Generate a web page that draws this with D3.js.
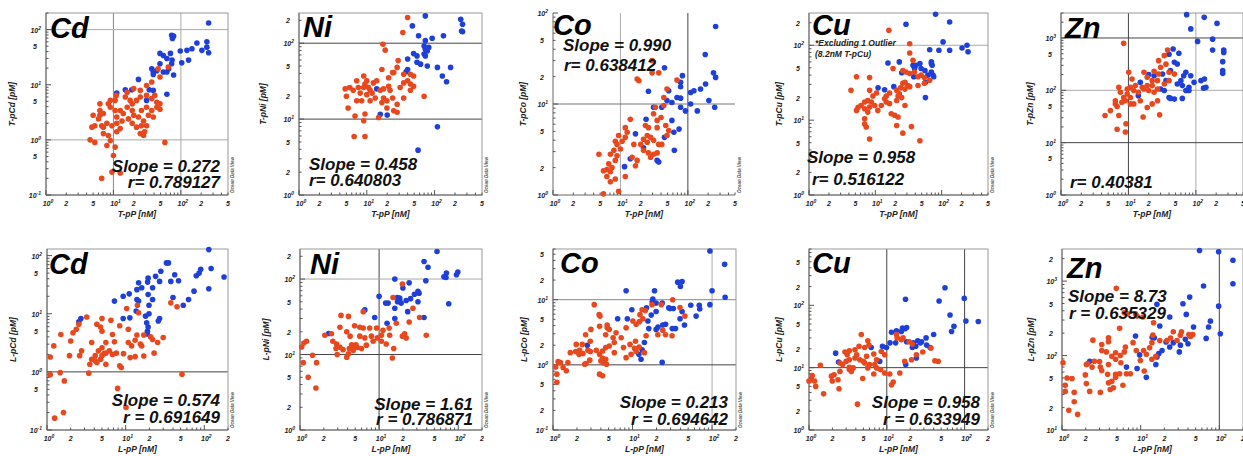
<!DOCTYPE html>
<html>
<head>
<meta charset="utf-8">
<script src="https://cdn.jsdelivr.net/npm/d3@7"></script>
<style>
body { margin: 0; background: #fff; }
svg text { font-family: "Liberation Sans", Arial, sans-serif; font-weight: bold; font-style: italic; }
</style>
</head>
<body>
<div id="container"></div>
<script>
// ---- values: [P nM, metal pM] ----
const tCdBlue = [[258,132],[73,79],[78,76],[75,69],[173,57],[243,60],[243,48],[258,38],[205,42],[146,45],[123,42],[98,41],[130,28],[103,25],[70,37],[55,34],[49,37],[62,30],[73,24],[74,28],[49,24],[44,18],[39,17],[55,17],[62,17],[78,15],[39,15.4],[66,19.5],[37,19.5],[23.5,12.5],[11.2,7.1],[15,8.1],[18.7,8.1],[34,8.1],[39,7.9],[31,5.2],[62,6.7]];
const tCdRed = [[65,21],[46,19.5],[49,13.8],[37,11.2],[31,9.7],[25,7.9],[20,8.5],[16,7.3],[15,6],[11,6.4],[10.6,5.2],[9,5.2],[8.4,4.5],[9,3.9],[10.6,3.4],[7.1,3],[6.3,3.4],[6,2.4],[5.3,1.8],[6.7,1.8],[8,2],[9.5,1.8],[11.2,2],[12.6,1.6],[11.2,1.4],[8.4,1.2],[7.1,1.3],[9,0.97],[8,0.79],[10.6,0.74],[4.5,1],[5.3,0.9],[10,0.52],[9.5,0.26],[12.6,0.25],[6.7,0.2],[58,0.9],[16,3.9],[19,4.5],[22,5.2],[26,3.4],[31,3.9],[37,3.4],[44,3.9],[49,3.6],[39,2.6],[33,2.8],[28,2.2],[23.5,2.6],[20,2.8],[16.7,2.4],[19,2],[22,1.7],[26,1.8],[31,1.8],[29,1.4],[28,1.2],[25,1.3],[44,4.8],[41,6.4],[37,5.6],[49,4.5],[14,3],[13.4,2.2],[19,3.4],[31,6.4],[25,6],[17.7,5.2],[6.3,2.8],[5,2.8],[6.3,4.5],[4.8,1.7],[7.1,1.7],[11.2,2.6],[12.6,3.4]];

const tNiBlue = [[73,229],[47,169],[58,125],[92,116],[135,125],[243,207],[258,178],[250,145],[258,142],[73,108],[70,92],[73,83],[78,79],[70,72],[73,68],[49,73],[55,68],[82,88],[40,62],[55,56],[62,53],[78,50],[110,48],[172,48],[130,37],[150,31],[40,45],[38,42],[14,25],[15.8,11.6],[20,11.3],[110,7.9],[57,3.9]];
const tNiRed = [[40,218],[34,138],[17.3,97],[18.7,81],[29,59],[28,48],[16.7,45],[25,41],[21,35],[24,41],[35,39],[44,39],[49,37],[40,32],[44,29],[49,27],[31,26],[21,27],[22,24],[17.7,25],[14,32],[12.5,30],[10,32],[9,37],[7.1,32],[5.6,26],[4.8,25],[5,20],[6.3,24],[7.5,26],[8,22],[9,26],[9.4,29],[10.6,26],[11.2,24],[12,22],[10,21],[8.4,17.4],[7.1,17.4],[5.3,14],[6.7,11],[9.4,11.7],[14.9,10.5],[9,9.5],[17.7,19],[19.8,17.4],[16.7,16.5],[24,19],[28,15.7],[25,12.9],[19.8,14],[28,12.3],[35,19],[70,20],[13.3,19],[15.8,24],[11.2,17.4],[6.5,5.9],[9.4,5.9],[44,24],[35,30]];

const tCoBlue = [[258,71],[181,35],[45,25],[83,20.5],[78,17.3],[240,22],[258,19.6],[183,16.6],[154,14.6],[110,13.4],[123,14],[78,15.5],[52,14],[26,13.8],[69,11.8],[78,11.6],[110,10],[138,8.4],[205,10.9],[250,9.2],[92,8.4],[78,9.2],[58,10.4],[49,10.9],[41,9.2],[31,9.2],[24,6.8],[58,6.6],[74,5.3],[62,4.9],[16.7,4.7],[45,4.3],[63,3.1],[35,2.4],[37,2.3],[22,3.3],[14,2.5],[11.5,2.05]];
const tCoRed = [[29.5,30],[29.5,22],[37,22],[17.7,18.8],[18.8,18],[69,18.3],[49,14.6],[44,11.8],[44,9.6],[33,9.2],[31,7.8],[35,6.6],[40,7.1],[47,5.8],[52,5.1],[49,4.5],[41,3.6],[37,3.6],[31,4],[28,4.3],[22,4.1],[25,3.8],[20,3.6],[22,3.1],[26,2.9],[31,2.8],[28,2.6],[35,2.9],[14,6.8],[11.8,5.5],[12.6,4.9],[9.4,4.5],[8.9,3.6],[8.4,3.9],[10,3.2],[8,3.1],[7.1,2.8],[8.9,2.7],[8.4,2.4],[6.7,2.2],[7.5,2],[6.3,1.9],[7.1,1.8],[5.6,1.85],[6.3,1.6],[8.4,1.5],[7.1,1.4],[9.4,1.1],[5.6,1.03],[4.8,2.8],[11.8,1.6],[14.9,2.6],[16.7,2.1],[17.7,2.4],[11.8,4.3],[10.6,3.9],[15.8,3.6],[25,4.5],[26,5.5],[23.5,5.8],[35,5.5]];

const tCuBlue = [[81,260],[132,205],[29,191],[105,111],[241,100],[250,82],[203,92],[132,86],[91,86],[66,87],[70,60],[70,57],[72,54],[47,57],[41,54],[37,54],[49,49],[39,49],[56,46],[70,44],[74,40],[76,38],[62,40],[38,38],[25,43],[23,60],[15.5,58],[57,32],[57,20],[11,27],[13.8,25.5],[19,28]];
const tCuRed = [[16,159],[33,79],[33,105],[18.5,49],[26,46],[29,44],[33,42],[39,44],[44,38],[49,40],[55,37],[66,34],[55,31],[44,29],[33,28],[31,29],[28,32],[26,31],[24,27],[21,25],[23,22.5],[16.4,23],[14.6,21],[13.8,19.3],[16.4,16.6],[21,18.3],[25,20],[28,26],[22,21],[10.4,23],[9.2,21],[8.2,25],[7.7,18.3],[8.7,17.5],[9.8,15.7],[6.9,17.5],[6.1,15.7],[5.5,14.9],[5.2,13.5],[6.9,14.2],[7.7,12.8],[8.2,15],[10.9,13.5],[12.3,15.7],[14.6,17.5],[17.4,12.2],[19.6,11.6],[22,11],[28,15.7],[6.9,10.4],[6.9,8.9],[7.3,8.1],[8.2,5.6],[21,8.5],[35,8.2],[26,6.7],[47,5.3],[5.2,38],[8.2,37],[4.3,25],[37,63]];

const tZnBlue = [[73,2790],[133,2480],[206,1900],[84,1490],[106,860],[177,950],[177,590],[259,590],[259,530],[250,353],[250,238],[250,211],[46,617],[56,510],[40,490],[48,343],[53,318],[42,238],[71,221],[66,190],[84,190],[94,142],[119,153],[134,165],[141,114],[130,110],[79,114],[71,99],[79,99],[63,123],[60,153],[20,200],[24,190],[32,205],[36,153],[30,106],[34,99],[40,73],[48,68],[63,70],[42,70],[15,142],[14,79],[53,132]];
const tZnRed = [[8.5,790],[38,590],[34,460],[28,369],[36,316],[30,275],[24,231],[28,205],[40,221],[48,205],[40,153],[34,132],[27,153],[22.5,153],[19,177],[17,221],[10.1,221],[11.3,165],[22.5,123],[27,106],[19,123],[16,114],[12.7,123],[10.7,114],[9.6,106],[12,99],[14,92],[17,106],[20,99],[24,92],[9.6,85],[8.5,73],[7.6,92],[7.2,114],[9,63],[10.7,73],[6.4,63],[6.4,55],[6.8,49],[8,59],[5.4,41],[4.5,33],[7.2,33],[6.8,18],[9,16],[9.2,23],[19,47],[22.5,55],[29,34],[16.5,31],[27,63],[15,63],[10.7,55],[12,55]];

const lCdBlue = [[114,127],[122,60],[86,50],[79,45],[90,58],[178,43],[114,27],[74,24.5],[63,17.6],[54,14],[40,19],[33,75],[35,75],[42,47],[47,37],[37.5,36],[28,54],[27,36],[22,28],[24,44],[19,35],[19.3,41],[14.6,34],[16,28],[13.9,26],[11.1,22],[9.3,20],[7.2,16.5],[19.3,21.4],[14.6,16.5],[19.8,14],[22,17.6],[13.9,17.6],[13.6,11.1],[19.8,10],[17.9,9.1],[18.5,7],[9.3,8.3],[27,8.3],[26,7.5],[11.3,8.5],[19.3,5.9],[18.9,5],[18.9,4.5],[2.7,8.3],[2.54,7.3]];
const lCdRed = [[14.1,14],[37.5,15.4],[45,13.2],[10.3,12.3],[14.6,10.4],[3.2,8.8],[5,8.3],[6.5,7.7],[4.3,6.6],[2.54,6.6],[4.8,5.9],[8.4,6.2],[10.8,5.4],[5,5],[2.36,5.4],[2.14,4.7],[1.5,4.4],[6.8,4.4],[13.9,4.3],[17,4.3],[20.8,4],[22,3.6],[30,3.9],[13.2,3.5],[10.8,3.2],[7.2,3.3],[5.6,3.2],[3.7,3.2],[2,3.4],[1.22,2.8],[25.5,3.2],[15.4,3],[11.9,2.8],[16,2.8],[5,2.6],[4.5,2.3],[6.2,2.3],[7.6,2.1],[5.3,2.06],[5,1.9],[4.8,1.65],[4.1,1.9],[3.7,1.65],[2.75,2.3],[2.6,1.9],[1.93,1.9],[1.1,1.8],[3.5,1.35],[5.6,2.1],[6.8,2],[9.4,2.06],[11.4,1.76],[13.2,1.83],[17,1.88],[23,2.1],[8.4,1.27],[8.8,1.19],[5.6,1.35],[4.3,1.45],[3.4,0.95],[1.1,0.89],[1.47,0.97],[1.66,0.7],[52,0.91],[7.9,0.52],[10.1,0.245],[1.62,0.2],[1.25,0.16],[4.1,1.55]];

const lNiBlue = [[54,232],[37,171],[41.5,143],[71,120],[70,105],[66,107],[99,124],[95,114],[76,47],[39,95],[24,89],[20,76],[15.8,100],[31,69],[32,65],[28,63],[25,55],[31,50],[22,52],[17,57],[18.2,53],[17.1,50],[15.8,41],[19,48],[23,37],[13,48],[12.1,48],[10,59],[6.6,39],[8.8,31],[12.6,26],[37,31],[15.8,30],[2.3,19],[18.2,56]];
const lNiRed = [[19.7,86],[15,57],[26.8,41],[24,27],[16.5,26],[32.5,31],[39.5,18],[6.3,37],[3.3,33],[4.1,32],[4.9,24],[5.7,23],[6.3,22.5],[7.6,22.5],[9.3,22.5],[11.2,21],[13.4,22.5],[10.7,18],[8,17.5],[6.6,16.6],[5.7,17.5],[4.3,17.5],[3.9,20],[3.2,23],[2.5,18.8],[2.06,18],[2.6,15],[2.9,13.8],[3.2,12.5],[2.85,12],[3.5,11.6],[4.2,12],[4.5,13.5],[4.7,12.8],[5.1,13.5],[5.3,12.4],[4.7,11.3],[4.1,10.2],[3.9,9.2],[2.95,10],[6,12],[6.9,13.3],[8.4,15],[9.5,16.6],[10.7,15],[12.3,13.8],[13.6,18],[15.3,12],[14.7,9],[19.7,17.5],[22,16.6],[21,18.8],[1.05,12.6],[1.12,14.2],[1.21,15],[1.44,9.8],[1.1,7.8],[1.62,7.8],[1.27,5],[1.59,3.6]];

const lCoBlue = [[94,56],[144,35],[146,10.9],[100,13.7],[94,8.4],[69,8.2],[70,7.2],[63,5.6],[54,8.2],[42,19],[37,18.6],[40,16],[18.9,13.7],[18,10.2],[17.7,9.2],[19.8,8.9],[23.6,8.9],[29.7,7.3],[32.6,7.3],[28.5,7.5],[42,6.6],[39.6,5.1],[45,4.1],[34.7,3.6],[31.6,3.6],[26,4.2],[24,4.1],[20.9,3.8],[16,3.6],[15.6,4.7],[17.2,5.8],[15,7.5],[19.8,6.6],[8.3,13.7],[9.8,7],[6.5,5.1],[8.6,5.1],[19.8,3.5],[14.1,2.2],[13.2,1.7],[12.8,1.22],[12,1.45],[23.6,1.09],[2.7,2]];
const lCoRed = [[32,10],[39.5,7.6],[45.6,5.6],[31.4,2.8],[26,2.9],[24,3.4],[20.8,2.9],[14.5,6.8],[13.5,5.1],[12.4,5.9],[11.1,4.2],[12.2,4.6],[10.1,4.7],[8.3,3.7],[7.2,2.6],[6.2,3.1],[5.7,2.6],[5.9,2.2],[5.1,3.5],[4.6,2.9],[4.8,3.7],[4.8,4.1],[3.85,3.9],[3.8,5.9],[3.9,5.6],[3.3,8.4],[3,3.5],[2.57,2.9],[2.94,2.3],[2.33,2.06],[2.75,1.67],[2.16,1.67],[1.93,1.6],[2.12,1.45],[2.38,1.49],[2.95,1.6],[3.5,1.67],[3.85,1.45],[4.2,1.63],[4.6,1.84],[5.1,1.95],[5.9,1.54],[4.2,1.26],[4,1.15],[4.3,1.08],[4.6,1.22],[4.7,1.02],[4.2,0.68],[3.85,0.72],[2.9,1.18],[2.5,1.02],[1.96,2.06],[1.65,1.54],[1.54,1.08],[1.47,0.81],[1.24,1.08],[1.16,1.12],[1.34,0.91],[1.12,0.72],[1.08,0.93],[1.12,0.54],[2.6,1.05],[8.3,1.29],[9.6,1.45],[7.7,1.84],[9.3,2.06],[10.9,2.3],[10.6,1.79],[12.1,1.88],[14.1,1.54],[11.1,1.6],[14.8,2.8],[23,8.4],[17.6,8.4],[13.2,7]];

const lCuBlue = [[56,191],[99,129],[47,117],[17.4,125],[65,70],[73,46],[68,38],[104,56],[150,55],[40,34],[32,30],[28,26],[25,27],[22,25],[23.6,22],[27,25],[18,26],[15.9,43],[17.1,42],[18,44],[15.4,38],[13.3,39],[11.5,37],[13,25],[11,25],[8.8,22],[9.9,21],[21.3,21],[36,21],[24,14.3],[17.5,11.2],[2.2,17.1],[2.4,12.3],[6.3,21],[8.1,12.6],[32.5,23]];
const lCuRed = [[16.2,30],[15.4,28],[19.4,26],[21.3,24],[13.3,34],[13.6,30],[4.7,34],[5.7,27],[5.9,23],[5.2,21],[4.4,22],[3.9,19.4],[3.3,18.7],[2.9,17.8],[3.1,16.1],[4.1,16.1],[3.9,14.3],[4.5,13.4],[5.2,11.9],[6,11.2],[7,11.2],[7.4,13.4],[8.5,18.2],[9.4,16.1],[6.8,16.6],[5.5,15.2],[3.3,13.4],[3,12.6],[2.7,11.2],[2.5,11.9],[3.3,10.1],[3.3,9.3],[3.5,8.7],[2.5,8.7],[2.1,7.7],[1.94,7.3],[2.36,6.4],[1.99,6.1],[2.43,4.6],[1.54,3.8],[1.4,10.9],[1.1,7.5],[1.07,6.4],[1.18,6.1],[1,6.1],[1.22,5],[4.9,6.7],[6.8,7.9],[9.4,8.2],[10.9,7.9],[12.1,5.9],[11.5,5.3],[8.3,9.3],[5.7,9.9],[14.7,8.2],[17,12.6],[20.8,13.4],[24,16.1],[29,17.8],[37,20.6],[41.5,12.9],[45.8,12.6],[4.2,2.6],[3.7,9.9],[5,12.6],[7.4,9.9]];

const lZnBlue = [[56,2580],[98,2480],[149,1910],[149,920],[63,860],[98,461],[42,610],[34.5,497],[16.1,487],[23.4,329],[38,357],[47,242],[77,290],[73,242],[103,196],[68,170],[40,144],[32,138],[26,149],[21,152],[17.5,249],[14.9,173],[14,176],[18.7,117],[17,106],[16.1,96],[15.6,76],[8.6,183],[9.7,102],[9,67],[11.8,51],[6.6,70],[23.4,130],[31,112],[37,165],[2.25,84]];
const lZnRed = [[4.9,800],[6.8,365],[6.2,376],[5.4,232],[8.6,365],[10.7,329],[14.6,276],[9,339],[26,209],[33,209],[41,192],[46,192],[43,180],[32,188],[29,159],[21.6,159],[24,172],[17.5,159],[14.3,188],[13.9,149],[13,127],[11.8,104],[10.9,117],[8.8,117],[8,149],[6.4,130],[6.2,112],[5.5,100],[5.6,80],[4.8,89],[3.9,173],[3.9,153],[4.8,109],[4.3,98],[3.2,141],[3.2,117],[2.47,161],[3.66,112],[2.58,84],[2.12,78],[2.41,70],[3,83],[3.07,70],[3.2,63],[3.9,76],[3.8,56],[4.8,56],[5.4,57],[4.8,51],[4.3,45],[3.9,43],[4.5,37],[4.1,35],[5.95,40],[6.6,57],[7.4,57],[1.98,55],[2.04,42],[2.04,76],[1.34,49],[1.16,50],[1.1,40],[1.1,33],[1.43,32],[2.25,33],[3.07,32],[1.03,80],[1.22,18.4],[1.58,16.2],[1.43,24],[9.9,86],[11.1,62],[13.9,89],[15.6,98]];

// ---- texts ----
const elements = ["Cd", "Ni", "Co", "Cu", "Zn"];
const topSlopes = ["0.272", "0.458", "0.990", "0.958", null];
const topRs = ["0.789127", "0.640803", "0.638412", "0.516122", "0.40381"];
const bottomSlopes = ["0.574", "1.61", "0.213", "0.958", "8.73"];
const bottomRs = ["0.691649", "0.786871", "0.694642", "0.633949", "0.635329"];
const cuNote = ["*Excluding 1 Outlier", "(8.2nM T-pCu)"];

const width = 1243;
const height = 456;
const red = "#e8481d";
const blue = "#1f3fd9";
const dark = "#444";
const light = "#aaa";

const svg = d3.select("div#container")
    .append("svg")
    .attr("width", width)
    .attr("height", height);

// layout of each panel (pixel boxes, domains, gridlines, text spots)
const panels = [
  {el:0, pre:"T", l:46, r:228, t:13, b:195, yt:31, xd:[1,500], yd:[0.1,200], xm:[2,5], ym:[5], box:true,
   gx:[[10,"#888"],[100,light]], gy:[[1,light],[100,light]], red:tCdRed, blue:tCdBlue,
   elPos:[50,38], sPos:[220,172,"end"], rPos:[220,188,"end"]},
  {el:1, pre:"T", l:299, r:482, t:13, b:195, yt:33, xd:[1,500], yd:[1,250], xm:[2,5], ym:[2,5], box:true,
   gx:[], gy:[[10,dark],[100,dark]], red:tNiRed, blue:tNiBlue,
   elPos:[303,37], sPos:[309,170,"start"], rPos:[309,186,"start"]},
  {el:2, pre:"T", l:553, r:735, t:13, b:195, yt:27, xd:[1,500], yd:[1,100], xm:[2,5], ym:[2,5], box:false,
   gx:[[10,light],[100,dark]], gy:[[10,"#777"]], red:tCoRed, blue:tCoBlue,
   elPos:[553,35], sPos:[563,51,"start"], rPos:[564,71,"start"]},
  {el:3, pre:"T", l:809, r:988, t:13, b:195, yt:27, xd:[1,500], yd:[1,270], xm:[2,5], ym:[2,5], box:true,
   gx:[], gy:[[100,light]], red:tCuRed, blue:tCuBlue,
   elPos:[812,35], sPos:[807,163,"start"], rPos:[812,185,"start"]},
  {el:4, pre:"T", l:1061, r:1243, t:13, b:195, yt:28, xd:[1,500], yd:[1,3000], xm:[2,5], ym:[5], box:true,
   gx:[[10,dark],[100,light]], gy:[[10,dark],[100,light],[1000,dark]], red:tZnRed, blue:tZnBlue,
   elPos:[1065,38], sPos:null, rPos:[1070,188,"start"]},
  {el:0, pre:"L", l:47, r:228, t:249, b:430, yt:31, xd:[1,200], yd:[0.1,130], xm:[2,5], ym:[5], box:true,
   gx:[], gy:[[1,dark]], red:lCdRed, blue:lCdBlue,
   elPos:[49,274], sPos:[220,406,"end"], rPos:[220,423,"end"]},
  {el:1, pre:"L", l:300, r:482, t:249, b:430, yt:31, xd:[1,200], yd:[1,250], xm:[2,5], ym:[2,5], box:true,
   gx:[[10,dark]], gy:[[10,dark],[100,light]], red:lNiRed, blue:lNiBlue,
   elPos:[310,274], sPos:[473,410,"end"], rPos:[473,425,"end"]},
  {el:2, pre:"L", l:553, r:736, t:249, b:430, yt:26, xd:[1,200], yd:[0.1,60], xm:[2,5], ym:[2,5], box:true,
   gx:[[100,light]], gy:[[1,dark],[10,"#888"]], red:lCoRed, blue:lCoBlue,
   elPos:[560,273], sPos:[728,408,"end"], rPos:[728,425,"end"]},
  {el:3, pre:"L", l:809, r:988, t:249, b:430, yt:27, xd:[1,200], yd:[1,800], xm:[2,5], ym:[2,5], box:true,
   gx:[[10,dark],[100,dark]], gy:[[10,dark]], red:lCuRed, blue:lCuBlue,
   elPos:[812,273], sPos:[980,408,"end"], rPos:[980,425,"end"]},
  {el:4, pre:"L", l:1062, r:1243, t:249, b:430, yt:28, xd:[1,200], yd:[10,2700], xm:[2,5], ym:[2,5], box:true,
   gx:[[100,dark]], gy:[], red:lZnRed, blue:lZnBlue,
   elPos:[1067,278], sPos:[1068,302,"start"], rPos:[1069,319,"start"]}
];

function logTicks(dom) {
    const out = [];
    const k0 = Math.floor(Math.log10(dom[0]) + 1e-9);
    const k1 = Math.ceil(Math.log10(dom[1]));
    for (let k = k0; k <= k1; k++) {
        for (let m = 1; m <= 9; m++) {
            const v = m * Math.pow(10, k);
            if (v >= dom[0] * 0.999 && v <= dom[1] * 1.001) out.push({v: v, m: m, k: k});
        }
    }
    return out;
}

function tickLabel(g, d) {
    if (d.m === 1) {
        g.append("tspan").text("10");
        g.append("tspan").attr("font-size", 5).attr("dy", -3).text(d.k);
    } else {
        g.text(d.m);
    }
}

panels.forEach(function(p, i) {
    const g = svg.append("g");
    const x = d3.scaleLog().domain(p.xd).range([p.l, p.r]);
    const y = d3.scaleLog().domain(p.yd).range([p.b, p.t]);
    const row = p.pre === "T" ? 0 : 1;

    // gridlines
    p.gx.forEach(function(gl) {
        g.append("line").attr("x1", x(gl[0])).attr("x2", x(gl[0]))
            .attr("y1", p.t).attr("y2", p.b).attr("stroke", gl[1]).attr("stroke-width", 1);
    });
    p.gy.forEach(function(gl) {
        g.append("line").attr("x1", p.l).attr("x2", p.r)
            .attr("y1", y(gl[0])).attr("y2", y(gl[0])).attr("stroke", gl[1]).attr("stroke-width", 1);
    });

    // frame
    if (p.box) {
        g.append("rect").attr("x", p.l).attr("y", p.t)
            .attr("width", p.r - p.l).attr("height", p.b - p.t)
            .attr("fill", "none").attr("stroke", "#999");
    }
    g.append("line").attr("x1", p.l).attr("x2", p.l).attr("y1", p.t).attr("y2", p.b).attr("stroke", "#666");
    g.append("line").attr("x1", p.l).attr("x2", p.r).attr("y1", p.b).attr("y2", p.b).attr("stroke", "#666");

    // x ticks (inward)
    const xt = logTicks(p.xd);
    g.selectAll("xtick").data(xt).enter().append("line")
        .attr("x1", function(d) { return x(d.v); })
        .attr("x2", function(d) { return x(d.v); })
        .attr("y1", p.b)
        .attr("y2", function(d) { return p.b - (d.m === 1 ? 5 : 2.5); })
        .attr("stroke", "#555");
    g.selectAll("xlab").data(xt.filter(function(d) { return d.m === 1 || p.xm.indexOf(d.m) >= 0; }))
        .enter().append("text")
        .attr("x", function(d) { return x(d.v) + (d.m === 1 ? 2 : 0); })
        .attr("y", p.b + 11)
        .attr("text-anchor", "middle")
        .attr("font-size", 7)
        .attr("fill", "#222")
        .each(function(d) { tickLabel(d3.select(this), d); });

    // y ticks (inward)
    const yt = logTicks(p.yd);
    g.selectAll("ytick").data(yt).enter().append("line")
        .attr("y1", function(d) { return y(d.v); })
        .attr("y2", function(d) { return y(d.v); })
        .attr("x1", p.l)
        .attr("x2", function(d) { return p.l + (d.m === 1 ? 5 : 2.5); })
        .attr("stroke", "#555");
    g.selectAll("ylab").data(yt.filter(function(d) { return d.m === 1 || p.ym.indexOf(d.m) >= 0; }))
        .enter().append("text")
        .attr("x", function(d) { return p.l - (d.m === 1 ? 5 : 9); })
        .attr("y", function(d) { return y(d.v) + 3; })
        .attr("text-anchor", "end")
        .attr("font-size", 7)
        .attr("fill", "#222")
        .each(function(d) { tickLabel(d3.select(this), d); });

    // axis titles
    g.append("text")
        .attr("x", (p.l + p.r) / 2).attr("y", p.b + 22)
        .attr("text-anchor", "middle").attr("font-size", 8.5).attr("fill", "#222")
        .text(p.pre + "-pP [nM]");
    g.append("text")
        .attr("transform", "translate(" + (p.l - p.yt) + "," + ((p.t + p.b) / 2) + ") rotate(-90)")
        .attr("text-anchor", "middle").attr("font-size", 8.5).attr("fill", "#222")
        .text(p.pre + "-p" + elements[p.el] + " [pM]");

    // Ocean Data View stamp
    if (p.r < 1200) {
        g.append("text")
            .attr("transform", "translate(" + (p.r + 6) + "," + (p.b - 2) + ") rotate(-90)")
            .attr("font-size", 4.5).attr("fill", "#555").attr("font-style", "normal")
            .text("Ocean Data View");
    }

    // points
    const plot = g.append("g");
    plot.selectAll("bdot").data(p.blue).enter().append("circle")
        .attr("cx", function(d) { return x(d[0]); })
        .attr("cy", function(d) { return y(d[1]); })
        .attr("r", 2.8).attr("fill", blue);
    plot.selectAll("rdot").data(p.red).enter().append("circle")
        .attr("cx", function(d) { return x(d[0]); })
        .attr("cy", function(d) { return y(d[1]); })
        .attr("r", 2.8).attr("fill", red);

    // big element label
    g.append("text").attr("x", p.elPos[0]).attr("y", p.elPos[1])
        .attr("font-size", 29).attr("fill", "#000").text(elements[p.el]);

    // slope & r
    const slope = row === 0 ? topSlopes[p.el] : bottomSlopes[p.el];
    const rv = row === 0 ? topRs[p.el] : bottomRs[p.el];
    if (p.sPos && slope) {
        g.append("text").attr("x", p.sPos[0]).attr("y", p.sPos[1]).attr("text-anchor", p.sPos[2])
            .attr("font-size", 17).attr("fill", "#111").text("Slope = " + slope);
    }
    g.append("text").attr("x", p.rPos[0]).attr("y", p.rPos[1]).attr("text-anchor", p.rPos[2])
        .attr("font-size", 17).attr("fill", "#111").text((row === 0 ? "r= " : "r = ") + rv);

    if (row === 0 && p.el === 3) {
        g.selectAll("note").data(cuNote).enter().append("text")
            .attr("x", 815).attr("y", function(d, j) { return 46 + j * 11; })
            .attr("font-size", 8.5).attr("fill", "#222").text(function(d) { return d; });
    }
});
</script>
</body>
</html>
